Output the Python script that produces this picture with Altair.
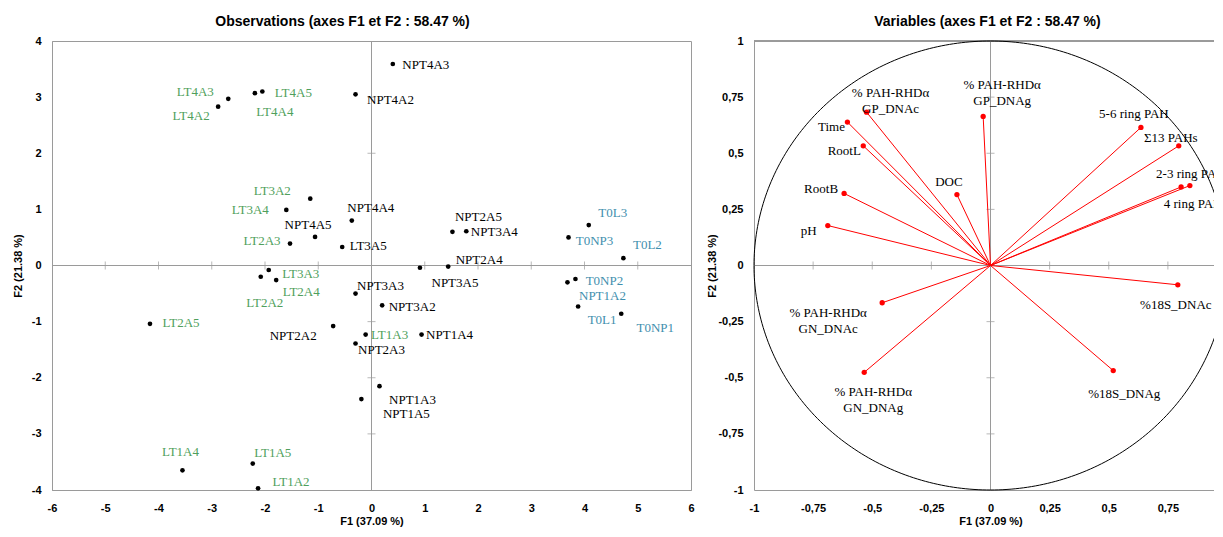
import altair as alt
import pandas as pd

# ---------------- Observations (left panel) ----------------
OBS_NAMES = ["NPT4A3", "NPT4A2", "LT4A3", "LT4A2", "LT4A4", "LT4A5", "LT3A2", "LT3A4",
             "NPT4A4", "NPT4A5", "LT2A3", "LT3A5", "LT3A3", "LT2A2", "LT2A4", "NPT3A3",
             "NPT3A2", "LT2A5", "NPT2A2", "LT1A3", "NPT1A4", "NPT2A3", "NPT1A3", "NPT1A5",
             "NPT2A5", "NPT3A4", "NPT3A5", "NPT2A4", "T0L3", "T0NP3", "T0L2", "T0NP2",
             "NPT1A2", "T0L1", "T0NP1", "LT1A4", "LT1A5", "LT1A2"]
OBS_F1 = [0.40, -0.30, -2.69, -2.88, -2.19, -2.05, -1.15, -1.60,
          -0.37, -1.06, -1.53, -0.55, -1.93, -2.08, -1.79, -0.30,
          0.20, -4.16, -0.72, -0.11, 0.94, -0.30, 0.15, -0.19,
          1.52, 1.78, 0.91, 1.44, 4.08, 3.70, 4.73, 3.83,
          3.68, 3.88, 4.69, -3.55, -2.23, -2.13]
OBS_F2 = [3.59, 3.05, 2.97, 2.83, 3.07, 3.10, 1.19, 0.99,
          0.80, 0.51, 0.39, 0.33, -0.08, -0.20, -0.26, -0.50,
          -0.71, -1.04, -1.08, -1.23, -1.23, -1.39, -2.15, -2.38,
          0.60, 0.61, -0.04, -0.02, 0.72, 0.50, 0.13, -0.24,
          -0.30, -0.73, -0.86, -3.65, -3.53, -3.97]
OBS_GROUP = ["NPT", "NPT", "LT", "LT", "LT", "LT", "LT", "LT",
             "NPT", "NPT", "LT", "NPT", "LT", "LT", "LT", "NPT",
             "NPT", "LT", "NPT", "LT", "NPT", "NPT", "NPT", "NPT",
             "NPT", "NPT", "NPT", "NPT", "T0", "T0", "T0", "T0",
             "T0", "T0", "T0", "LT", "LT", "LT"]
# label offsets from the point (pixels)
OBS_LDX = [33, 35, -33, -27, 20, 31, -38, -36, 19, -7, -28, 26, 32, 4, 25, 25,
           30, 31, -40, 24, 28, 26, 33, 45, 26, 28, 35, 31, 24, 26, 24, 29,
           35, 24, 34, -2, 20, 33]
OBS_LDY = [1, 6, -7, 9, 19, 1, -8, 0, -13, -12, -3, -1, 4, 26, 12, -8,
           2, -1, 10, 0, 0, 6, 14, 15, -15, 1, 15, -7, -12, 4, -13, 2,
           14, 14, 14, -18, -11, -6]

# ---------------- Variables (right panel) ----------------
VAR_NAMES = ["% PAH-RHDα\nGP_DNAc", "% PAH-RHDα\nGP_DNAg", "Time", "RootL", "RootB", "pH", "DOC",
             "5-6 ring PAH", "Σ13 PAHs", "2-3 ring PAH", "4 ring PAH", "%18S_DNAc",
             "% PAH-RHDα\nGN_DNAc", "% PAH-RHDα\nGN_DNAg", "%18S_DNAg"]
VAR_F1 = [-0.524, -0.031, -0.605, -0.538, -0.619, -0.688, -0.142,
          0.636, 0.796, 0.843, 0.806, 0.792, -0.458, -0.534, 0.519]
VAR_F2 = [0.683, 0.664, 0.639, 0.533, 0.321, 0.178, 0.316,
          0.615, 0.533, 0.356, 0.350, -0.086, -0.166, -0.476, -0.468]
VAR_LDX = [24, 19, -16, -19, -23, -19, -8, -7, -8, 1, 12, -2, -54, 9, 11]
VAR_LDY = [-19, -31, 5, 5, -4, 5, -13, -13, -8, -12, 17, 20, 10, 20, 23]

L_XTICKS = [-6, -5, -4, -3, -2, -1, 0, 1, 2, 3, 4, 5, 6]
L_YTICKS = [-4, -3, -2, -1, 0, 1, 2, 3, 4]
R_XTICKS = [-1, -0.75, -0.5, -0.25, 0, 0.25, 0.5, 0.75]
R_YTICKS = [-1, -0.75, -0.5, -0.25, 0, 0.25, 0.5, 0.75, 1]

# ---------------- layout ----------------
LW, LH = 639, 449
RW, RH = 473, 449
L_XDOM, L_YDOM = [-6, 6], [-4, 4]
R_XDOM, R_YDOM = [-1, 1], [-1, 1]
GRAY = "#9a9a9a"
SANS = "Liberation Sans"
SERIF = "Liberation Serif"

lpx = LW / (L_XDOM[1] - L_XDOM[0])
lpy = LH / (L_YDOM[1] - L_YDOM[0])
rpx = RW / (R_XDOM[1] - R_XDOM[0])
rpy = RH / (R_YDOM[1] - R_YDOM[0])

obs = pd.DataFrame({"name": OBS_NAMES, "f1": OBS_F1, "f2": OBS_F2, "grp": OBS_GROUP})
obs["lf1"] = [f + d / lpx for f, d in zip(OBS_F1, OBS_LDX)]
obs["lf2"] = [f - d / lpy for f, d in zip(OBS_F2, OBS_LDY)]

var = pd.DataFrame({"name": VAR_NAMES, "f1": VAR_F1, "f2": VAR_F2})
var["lf1"] = [f + d / rpx for f, d in zip(VAR_F1, VAR_LDX)]
var["lf2"] = [f - d / rpy for f, d in zip(VAR_F2, VAR_LDY)]


def axis_common(**kw):
    base = dict(labelFont=SANS, labelFontSize=11, labelFontWeight="bold", labelColor="black",
                titleFont=SANS, titleFontSize=11, titleFontWeight="bold", titleColor="black",
                ticks=False, tickSize=0, grid=False, domain=True, domainColor=GRAY,
                labelFlush=False, labelOverlap=False, titleBaseline="middle")
    base.update(kw)
    return alt.Axis(**base)


LXAX = axis_common(values=L_XTICKS, labelExpr="toString(datum.value)", labelPadding=12,
                   title="F1 (37.09 %)", titleY=31)
LYAX = axis_common(values=L_YTICKS, labelExpr="toString(datum.value)", labelPadding=11,
                   title="F2 (21.38 %)", titleX=-34)
RXAX = axis_common(values=R_XTICKS, labelExpr="replace(toString(datum.value), '.', ',')",
                   labelPadding=12, title="F1 (37.09 %)", titleY=31)
RYAX = axis_common(values=R_YTICKS, labelExpr="replace(toString(datum.value), '.', ',')",
                   labelPadding=11, title="F2 (21.38 %)", titleX=-42)

LXS = alt.Scale(domain=L_XDOM, nice=False, zero=False)
LYS = alt.Scale(domain=L_YDOM, nice=False, zero=False)
RXS = alt.Scale(domain=R_XDOM, nice=False, zero=False)
RYS = alt.Scale(domain=R_YDOM, nice=False, zero=False)


def lx(field=None, datum=None):
    if datum is not None:
        return alt.X(datum=datum, type="quantitative", scale=LXS, axis=LXAX)
    return alt.X(field, type="quantitative", scale=LXS, axis=LXAX)


def ly(field=None, datum=None):
    if datum is not None:
        return alt.Y(datum=datum, type="quantitative", scale=LYS, axis=LYAX)
    return alt.Y(field, type="quantitative", scale=LYS, axis=LYAX)


def rx(field=None, datum=None):
    if datum is not None:
        return alt.X(datum=datum, type="quantitative", scale=RXS, axis=RXAX)
    return alt.X(field, type="quantitative", scale=RXS, axis=RXAX)


def ry(field=None, datum=None):
    if datum is not None:
        return alt.Y(datum=datum, type="quantitative", scale=RYS, axis=RYAX)
    return alt.Y(field, type="quantitative", scale=RYS, axis=RYAX)


# ---------- left panel ----------
lbase = alt.Chart(obs)
l_vzero = alt.Chart(obs).mark_rule(color=GRAY, strokeWidth=1).encode(x=lx(datum=0))
l_hzero = alt.Chart(obs).mark_rule(color=GRAY, strokeWidth=1).encode(y=ly(datum=0))
l_xt = alt.Chart(pd.DataFrame({"v": L_XTICKS[1:-1]})).mark_tick(
    orient="vertical", size=8, thickness=1, color=GRAY).encode(x=lx("v"), y=ly(datum=0))
l_yt = alt.Chart(pd.DataFrame({"v": L_YTICKS[1:-1]})).mark_tick(
    orient="horizontal", size=8, thickness=1, color=GRAY).encode(y=ly("v"), x=lx(datum=0))
l_pts = lbase.mark_circle(size=22, color="black", opacity=1).encode(x=lx("f1"), y=ly("f2"))
l_txt = lbase.mark_text(font=SERIF, fontSize=13, align="center", baseline="middle").encode(
    x=lx("lf1"), y=ly("lf2"), text="name:N",
    color=alt.Color("grp:N", scale=alt.Scale(domain=["LT", "NPT", "T0"],
                                             range=["#4f9f5c", "#000000", "#3f8fae"]),
                    legend=None))

left = alt.layer(l_vzero, l_hzero, l_xt, l_yt, l_pts, l_txt).properties(
    width=LW, height=LH,
    title=alt.TitleParams("Observations (axes F1 et F2 : 58.47 %)", font=SANS, fontSize=14,
                          fontWeight="bold", anchor="middle", dx=-29, offset=-8,
                          baseline="bottom", color="black"),
    view=alt.ViewBackground(stroke=GRAY, strokeWidth=1))

# ---------- right panel ----------
r_top = alt.Chart(var).mark_rule(color=GRAY, strokeWidth=1).encode(y=ry(datum=1))
r_vzero = alt.Chart(var).mark_rule(color=GRAY, strokeWidth=1).encode(x=rx(datum=0))
r_hzero = alt.Chart(var).mark_rule(color=GRAY, strokeWidth=1).encode(y=ry(datum=0))
r_xt = alt.Chart(pd.DataFrame({"v": R_XTICKS[1:]})).mark_tick(
    orient="vertical", size=8, thickness=1, color=GRAY).encode(x=rx("v"), y=ry(datum=0))
r_yt = alt.Chart(pd.DataFrame({"v": R_YTICKS[1:-1]})).mark_tick(
    orient="horizontal", size=8, thickness=1, color=GRAY).encode(y=ry("v"), x=rx(datum=0))
circle = alt.Chart(alt.sequence(0, 361, 1, as_="deg")).transform_calculate(
    cx="cos(datum.deg * PI / 180)", cy="sin(datum.deg * PI / 180)"
).mark_line(color="black", strokeWidth=1).encode(
    x=rx("cx"), y=ry("cy"), order="deg:Q")
vec = alt.Chart(var).transform_calculate(z="0").mark_rule(color="#ff0000", strokeWidth=1).encode(
    x=rx("z"), y=ry("z"), x2="f1:Q", y2="f2:Q")
r_pts = alt.Chart(var).mark_circle(size=28, color="#ff0000", opacity=1).encode(x=rx("f1"), y=ry("f2"))
r_txt = alt.Chart(var).mark_text(font=SERIF, fontSize=13, align="center", baseline="middle",
                                 lineBreak="\n", lineHeight=16, color="black").encode(
    x=rx("lf1"), y=ry("lf2"), text="name:N")

right = alt.layer(r_top, r_vzero, r_hzero, r_xt, r_yt, circle, vec, r_pts, r_txt).properties(
    width=RW, height=RH,
    title=alt.TitleParams("Variables (axes F1 et F2 : 58.47 %)", font=SANS, fontSize=14,
                          fontWeight="bold", anchor="middle", dx=-3, offset=-8,
                          baseline="bottom", color="black"),
    view=alt.ViewBackground(stroke="transparent"))

chart = alt.hconcat(left, right, spacing=63, bounds="flush").properties(
    padding={"left": 3, "top": 6, "right": -16, "bottom": 0},
    background="white")

chart.save("out.html", embed_options={"renderer": "svg", "actions": False})
